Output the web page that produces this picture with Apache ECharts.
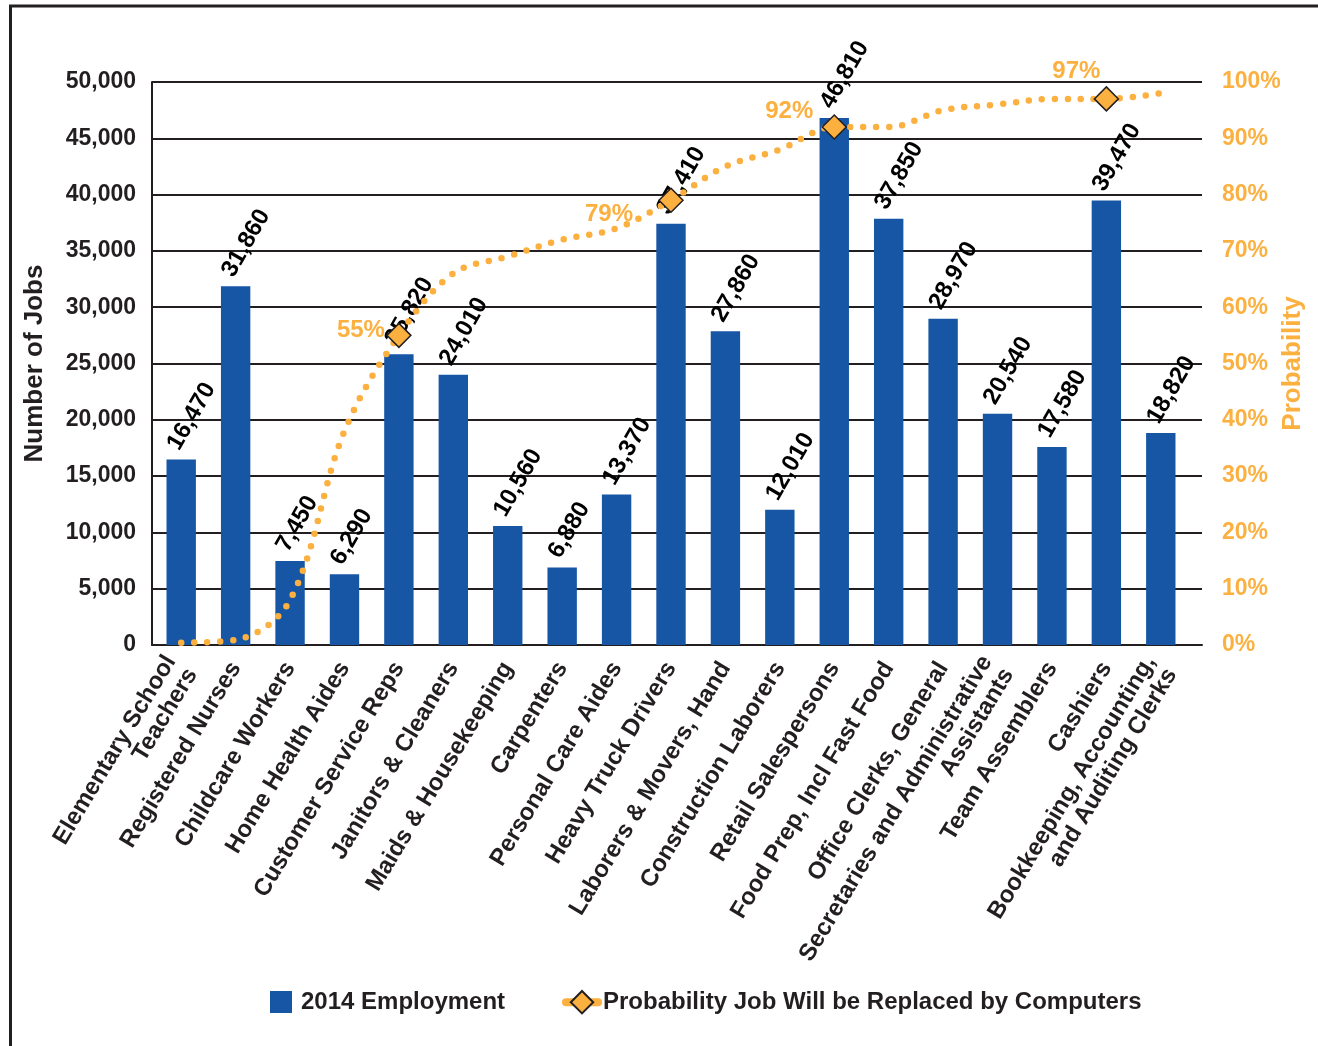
<!DOCTYPE html>
<html>
<head>
<meta charset="utf-8">
<script src="https://cdn.jsdelivr.net/npm/echarts@6/dist/echarts.min.js"></script>
<style>
  html, body { margin: 0; padding: 0; background: #fff; overflow: hidden; }
  #chart { width: 1318px; height: 1046px; }
</style>
</head>
<body>
<div id="chart"></div>
<script>
// Occupations, 2014 employment and the probability of computerisation
const categories = [
  'Elementary School\nTeachers', 'Registered Nurses', 'Childcare Workers', 'Home Health Aides',
  'Customer Service Reps', 'Janitors & Cleaners', 'Maids & Housekeeping', 'Carpenters',
  'Personal Care Aides', 'Heavy Truck Drivers', 'Laborers & Movers, Hand', 'Construction Laborers',
  'Retail Salespersons', 'Food Prep, Incl Fast Food', 'Office Clerks, General',
  'Secretaries and Administrative\nAssistants', 'Team Assemblers', 'Cashiers',
  'Bookkeeping, Accounting,\nand Auditing Clerks'
];
const employment2014 = [16470, 31860, 7450, 6290, 25820, 24010, 10560, 6880, 13370, 37410,
  27860, 12010, 46810, 37850, 28970, 20540, 17580, 39470, 18820];
const probability = [0.4, 0.9, 8, 38, 55, 66, 69, 72, 74, 79, 85, 88, 92, 92, 95, 96, 97, 97, 98];
// points that carry a diamond and a percentage label
const highlighted = [4, 9, 12, 17];
const highlightOffsets = { 4: [-38, -5], 9: [-62, 14], 12: [-45, -16], 17: [-30, -28] };

const BLUE = '#1656A4';
const ORANGE = '#FBB040';
const INK = '#231f20';
const FONT = '"Liberation Sans", Arial, sans-serif';

const fmt = v => String(v).replace(/\B(?=(\d{3})+(?!\d))/g, ',');

const lineData = probability.map((v, i) => {
  if (highlighted.indexOf(i) === -1) return { value: v, symbol: 'none' };
  return {
    value: v,
    label: {
      show: true, position: 'inside', offset: highlightOffsets[i],
      formatter: '{c}%', color: ORANGE, fontSize: 24, fontWeight: 'bold', fontFamily: FONT
    }
  };
});

const chart = echarts.init(document.getElementById('chart'), null, { renderer: 'canvas' });
chart.setOption({
  animation: false,
  backgroundColor: '#fff',
  textStyle: { fontFamily: FONT },
  graphic: [{
    type: 'rect', left: 8, top: 3.5, silent: true, z: -1,
    shape: { width: 1400, height: 1100 },
    style: { fill: 'none', stroke: INK, lineWidth: 3 }
  }],
  // grid 0 holds the bars and the probability line; grid 1 carries the job-count frame
  grid: [
    { left: 154, right: 130, top: 82, bottom: 401, containLabel: false, outerBoundsMode: 'none' },
    { left: 152, right: 116, top: 82, bottom: 401, containLabel: false, outerBoundsMode: 'none' }
  ],
  legend: [{
    data: [{ name: '2014 Employment', icon: 'path://M0,0H10V10H0Z' }],
    left: 270, top: 990, padding: 0, itemWidth: 30, itemHeight: 22,
    textStyle: { fontSize: 24, fontWeight: 'bold', color: INK, fontFamily: FONT }
  }, {
    data: ['Probability Job Will be Replaced by Computers'],
    left: 562, top: 990, padding: 0, itemWidth: 32, itemHeight: 28,
    lineStyle: { type: 'solid', width: 8, cap: 'round' },
    textStyle: { fontSize: 24, fontWeight: 'bold', color: INK, fontFamily: FONT }
  }],
  xAxis: [{
    type: 'category',
    gridIndex: 0,
    data: categories,
    axisLine: { show: false },
    axisTick: { show: false },
    axisLabel: {
      interval: 0, rotate: 59, margin: 19,
      fontSize: 24, fontWeight: 'bold', color: INK, fontFamily: FONT, lineHeight: 25
    }
  }, {
    type: 'value',
    gridIndex: 1,
    min: 0, max: 1,
    axisLine: { show: true, lineStyle: { color: INK, width: 2 } },
    axisTick: { show: false },
    axisLabel: { show: false },
    splitLine: { show: false }
  }],
  yAxis: [{
    type: 'value', gridIndex: 1, min: 0, max: 50000, interval: 5000,
    name: 'Number of Jobs', nameLocation: 'middle', nameRotate: 90, nameGap: 104,
    nameTextStyle: { fontSize: 26, fontWeight: 'bold', color: INK, fontFamily: FONT },
    axisLine: { show: true, lineStyle: { color: INK, width: 2 } },
    axisTick: { show: false },
    splitLine: { lineStyle: { color: INK, width: 2 } },
    axisLabel: { margin: 16, formatter: v => fmt(v), fontSize: 23, fontWeight: 'bold', color: INK, fontFamily: FONT }
  }, {
    type: 'value', gridIndex: 0, min: 0, max: 100, interval: 10, position: 'right',
    name: 'Probability', nameLocation: 'middle', nameRotate: 90, nameGap: 92,
    nameMoveOverlap: false,
    nameTextStyle: { fontSize: 26, fontWeight: 'bold', color: ORANGE, fontFamily: FONT },
    axisLine: { show: false },
    axisTick: { show: false },
    splitLine: { show: false },
    axisLabel: { margin: 34, formatter: '{value}%', fontSize: 23, fontWeight: 'bold', color: ORANGE, fontFamily: FONT }
  }, {
    type: 'value', gridIndex: 0, min: 0, max: 50000, interval: 5000, position: 'left',
    show: false
  }],
  series: [{
    name: '2014 Employment',
    type: 'bar',
    xAxisIndex: 0,
    yAxisIndex: 2,
    data: employment2014,
    barWidth: '54%',
    itemStyle: { color: BLUE },
    z: 2,
    label: {
      show: true, position: 'top', distance: 1, offset: [5, 0], rotate: 60,
      align: 'left', verticalAlign: 'bottom',
      formatter: p => fmt(p.value),
      fontSize: 24, fontWeight: 'bold', color: '#000', fontFamily: FONT
    }
  }, {
    name: 'Probability Job Will be Replaced by Computers',
    type: 'line',
    xAxisIndex: 0,
    yAxisIndex: 1,
    data: lineData,
    smooth: 0.35,
    symbol: 'diamond',
    symbolSize: 24,
    showSymbol: true,
    z: 5,
    itemStyle: { color: ORANGE, borderColor: INK, borderWidth: 1.5 },
    lineStyle: { color: ORANGE, width: 6.5, type: [0, 13], cap: 'round' }
  }]
});
</script>
</body>
</html>
